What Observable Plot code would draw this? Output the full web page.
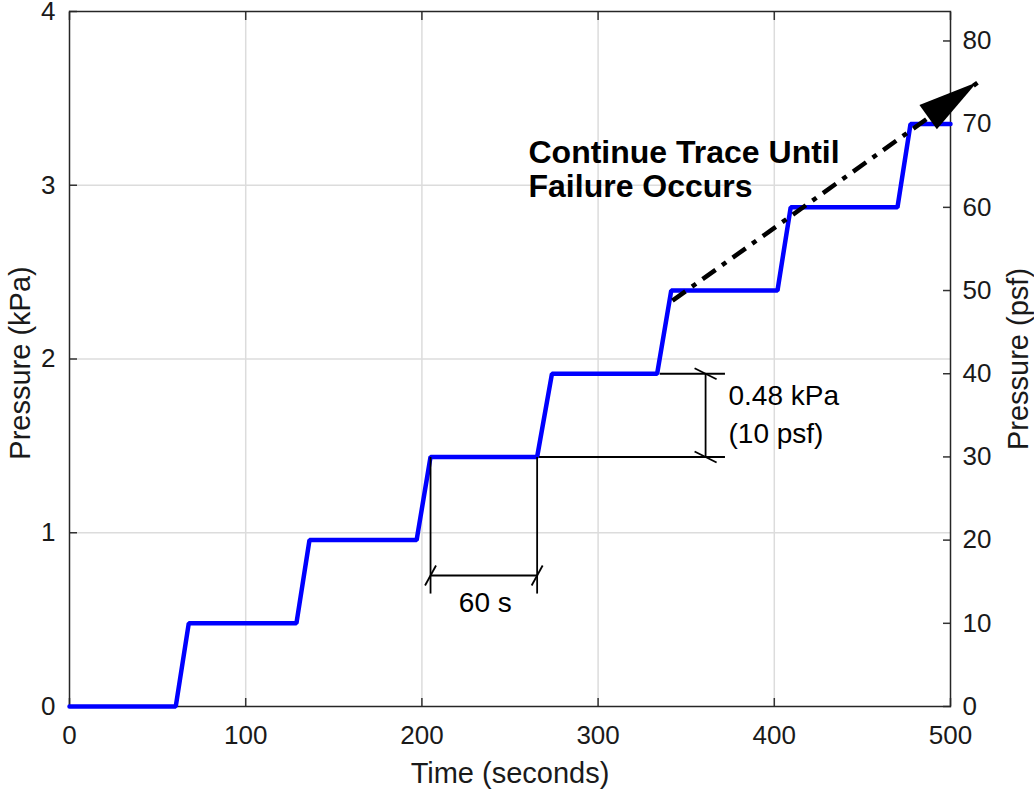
<!DOCTYPE html>
<html><head><meta charset="utf-8">
<script src="https://cdn.jsdelivr.net/npm/d3@7"></script>
<script src="https://cdn.jsdelivr.net/npm/@observablehq/plot@0.6"></script>
<style>
body{margin:0;background:#fff;}
svg{font-family:"Liberation Sans", Arial, sans-serif;}
</style>
</head><body><div id="chart"></div>
<script>
// ---- data ----
const time     = [0, 60.3, 67.7, 128.8, 136.2, 197.0, 204.9, 265.4, 273.8, 333.5, 341.5, 401.8, 409.3, 469.9, 477.3, 500];
const pressure = [0, 0, 0.479, 0.479, 0.958, 0.958, 1.436, 1.436, 1.915, 1.915, 2.394, 2.394, 2.873, 2.873, 3.352, 3.352];
const xTicks   = [0, 100, 200, 300, 400, 500];
const kPaTicks = [0, 1, 2, 3, 4];
const psfTicks = [0, 10, 20, 30, 40, 50, 60, 70, 80];
const KPA_PER_PSF = 0.04788;

// annotation geometry (data units: seconds, kPa)
const trendArrow = [{x1: 342.2, y1: 2.336, x2: 515.3, y2: 3.590}];
const dimLines = [
  {x1: 204.9, y1: 1.436, x2: 204.9, y2: 0.65},
  {x1: 265.4, y1: 1.436, x2: 265.4, y2: 0.65},
  {x1: 204.9, y1: 0.754, x2: 265.4, y2: 0.754},
  {x1: 335.0, y1: 1.915, x2: 372.0, y2: 1.915},
  {x1: 266.5, y1: 1.436, x2: 372.0, y2: 1.436},
  {x1: 361.0, y1: 1.915, x2: 361.0, y2: 1.436}
];
const slashH = [{x: 204.9, y: 0.754}, {x: 265.4, y: 0.754}];
const slashV = [{x: 361.0, y: 1.915}, {x: 361.0, y: 1.436}];
const notes = [
  {x: 236.0, y: 0.593, text: "60 s", anchor: "middle", weight: "normal", size: 28},
  {x: 374.0, y: 1.789, text: "0.48 kPa", anchor: "start", weight: "normal", size: 28},
  {x: 374.0, y: 1.571, text: "(10 psf)", anchor: "start", weight: "normal", size: 28},
  {x: 260.5, y: 3.187, text: "Continue Trace Until", anchor: "start", weight: "bold", size: 32},
  {x: 260.5, y: 2.992, text: "Failure Occurs", anchor: "start", weight: "bold", size: 32}
];

const series = time.map((t, i) => ({t, p: pressure[i]}));

const slashUpSym = {draw(ctx) { ctx.moveTo(-5.5, 10); ctx.lineTo(5.5, -10); }};
const slashDownSym = {draw(ctx) { ctx.moveTo(-11, -5.5); ctx.lineTo(11, 5.5); }};

function arrowHead(index, scales) {
  const a = trendArrow[0];
  const x0 = scales.x(a.x1), y0 = scales.y(a.y1);
  const x1 = scales.x(a.x2), y1 = scales.y(a.y2);
  const len = Math.hypot(x1 - x0, y1 - y0);
  const ux = (x1 - x0) / len, uy = (y1 - y0) / len;
  const hl = 60, hw = 15;
  const bx = x1 - ux * hl, by = y1 - uy * hl;
  const pts = [[x1, y1], [bx - uy * hw, by + ux * hw], [bx + uy * hw, by - ux * hw]];
  const poly = document.createElementNS("http://www.w3.org/2000/svg", "polygon");
  poly.setAttribute("points", pts.map(p => p.join(",")).join(" "));
  poly.setAttribute("fill", "black");
  return poly;
}

const ink = "#1a1a1a";
const chart = Plot.plot({
  width: 1034,
  height: 790,
  marginLeft: 69,
  marginRight: 84,
  marginTop: 11,
  marginBottom: 84,
  x: {domain: [0, 500]},
  y: {domain: [0, 4]},
  marks: [
    Plot.gridX({ticks: xTicks.slice(1, -1), stroke: "#dcdcdc", strokeOpacity: 1, strokeWidth: 1.5}),
    Plot.gridY({ticks: kPaTicks.slice(1, -1), stroke: "#dcdcdc", strokeOpacity: 1, strokeWidth: 1.5}),
    // tick labels
    Plot.axisX({ticks: xTicks, tickSize: 0, tickPadding: 19, tickFormat: d => String(d), fontSize: 26, fill: ink, label: null}),
    Plot.axisY({ticks: kPaTicks, anchor: "left", tickSize: 0, tickPadding: 14, tickFormat: d => String(d), fontSize: 26, fill: ink, label: null}),
    Plot.axisY({ticks: psfTicks.map(v => v * KPA_PER_PSF), anchor: "right", tickSize: 0, tickPadding: 12,
      tickFormat: d => String(Math.round(d / KPA_PER_PSF)), fontSize: 26, fill: ink, label: null}),
    // inward ticks
    Plot.axisX({ticks: xTicks, anchor: "bottom", tickSize: -8, tickFormat: () => "", label: null, stroke: "#333", strokeWidth: 1.5}),
    Plot.axisX({ticks: xTicks, anchor: "top", tickSize: -8, tickFormat: () => "", label: null, stroke: "#333", strokeWidth: 1.5}),
    Plot.axisY({ticks: kPaTicks, anchor: "left", tickSize: -8, tickFormat: () => "", label: null, stroke: "#333", strokeWidth: 1.5}),
    Plot.axisY({ticks: psfTicks.map(v => v * KPA_PER_PSF), anchor: "right", tickSize: -8, tickFormat: () => "", label: null, stroke: "#333", strokeWidth: 1.5}),
    Plot.frame({stroke: "#262626", strokeWidth: 1.5}),
    // axis titles
    Plot.text(["Time (seconds)"], {frameAnchor: "bottom", textAnchor: "middle", lineAnchor: "middle", dy: 67, fontSize: 29, fill: ink}),
    Plot.text(["Pressure (kPa)"], {frameAnchor: "left", textAnchor: "middle", lineAnchor: "middle", dx: -49, dy: 4, rotate: -90, fontSize: 29, fill: ink}),
    Plot.text(["Pressure (psf)"], {frameAnchor: "right", textAnchor: "middle", lineAnchor: "middle", dx: 68, dy: 0, rotate: -90, fontSize: 29, fill: ink}),
    // data
    Plot.line(series, {x: "t", y: "p", stroke: "#0000ff", strokeWidth: 4.5, strokeLinejoin: "miter"}),
    // dimension lines
    Plot.link(dimLines, {x1: "x1", y1: "y1", x2: "x2", y2: "y2", stroke: "black", strokeWidth: 1.8}),
    Plot.dot(slashH, {x: "x", y: "y", symbol: slashUpSym, stroke: "black", fill: "none", strokeWidth: 1.8}),
    Plot.dot(slashV, {x: "x", y: "y", symbol: slashDownSym, stroke: "black", fill: "none", strokeWidth: 1.8}),
    // trend arrow
    Plot.link(trendArrow, {x1: "x1", y1: "y1", x2: "x2", y2: "y2", stroke: "black", strokeWidth: 4.5, strokeDasharray: "16,8,5,8"}),
    arrowHead,
    // notes
    ...notes.map(n => Plot.text([n], {x: "x", y: "y", text: "text", textAnchor: n.anchor, fontWeight: n.weight, fontSize: n.size, fill: "black"}))
  ]
});
document.getElementById("chart").appendChild(chart);
</script>
</body></html>
